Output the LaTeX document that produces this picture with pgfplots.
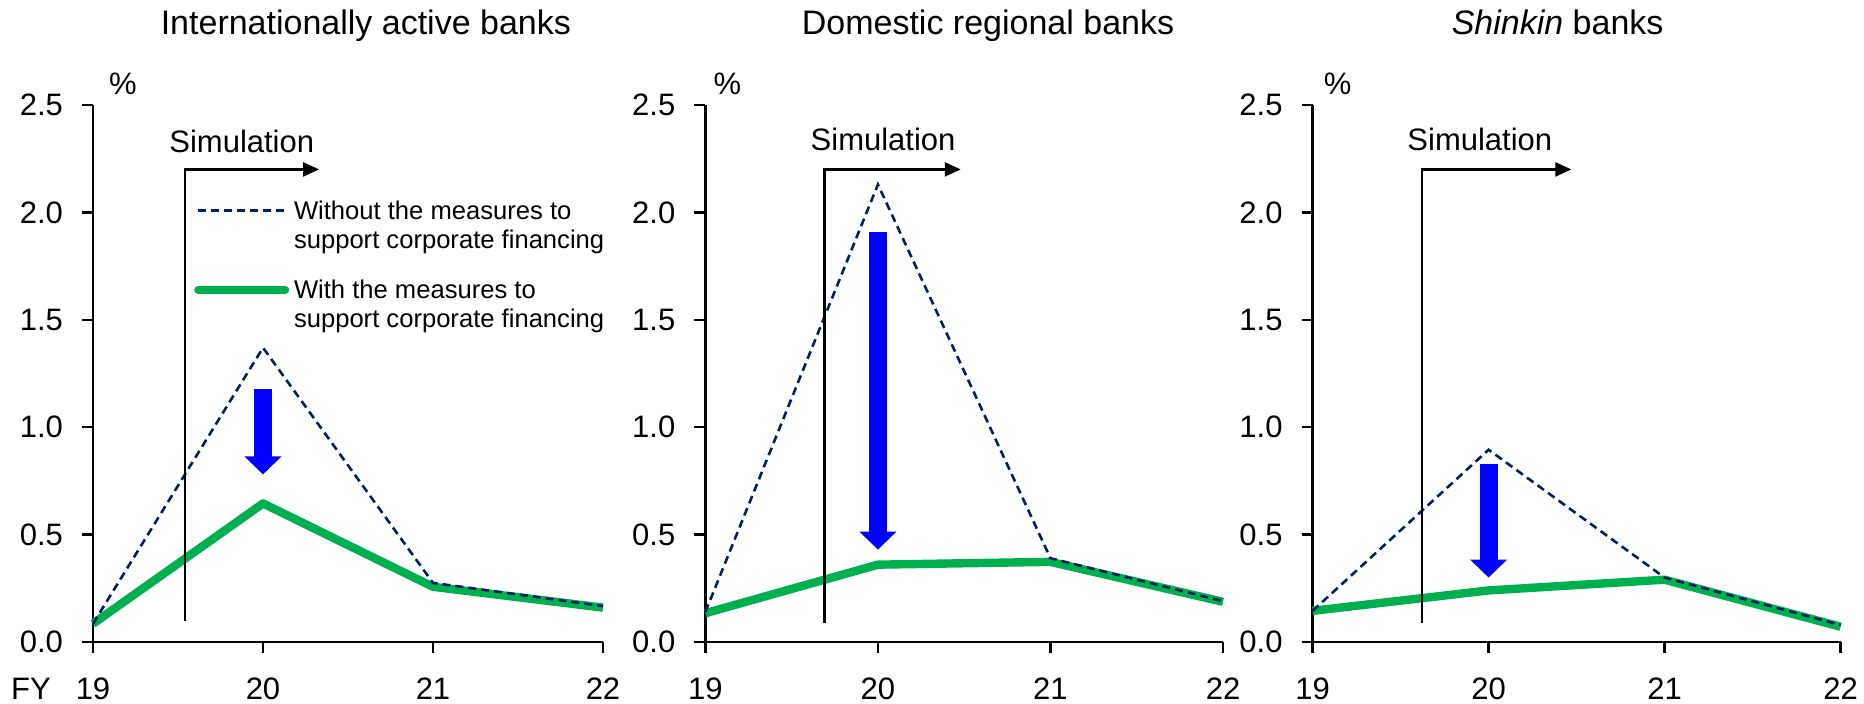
\documentclass[border=0pt]{standalone}
\usepackage{fontspec}
\setmainfont{Liberation Sans}
\usepackage{pgfplots}
\pgfplotsset{compat=1.18}
\usetikzlibrary{arrows.meta}
\definecolor{sgreen}{RGB}{0,176,80}
\definecolor{navy}{RGB}{0,32,96}
\definecolor{arrowblue}{RGB}{0,0,255}
\newcommand{\tickfont}{\fontsize{15.5}{18}\selectfont}
\newcommand{\titlefont}{\fontsize{17}{20}\selectfont}
\newcommand{\legfont}{\fontsize{12.8}{15}\selectfont}
\pgfplotsset{panel/.style={
  scale only axis, height=268.5pt,
  xmin=19, xmax=22, ymin=0, ymax=2.5,
  axis lines=left, axis line style={line width=1.2pt,-,black},
  xtick={19,20,21,22}, ytick={0,0.5,1,1.5,2,2.5},
  tick align=outside, major tick length=5.5pt,
  tick style={black,line width=1.2pt},
  /pgf/number format/assume math mode=true,
  yticklabel style={xshift=-6pt,/pgf/number format/.cd,fixed,fixed zerofill,precision=1},
  xticklabel style={yshift=-9pt},
  ticklabel style={font=\tickfont},
  clip=false, anchor=south west,
}}
\tikzset{
  sim/.style={line width=1.2pt,-{Triangle[length=8pt,width=7pt]}},
  down/.style={arrowblue,line width=9pt,-{Triangle[length=9pt,width=18pt]}},
}
\begin{document}
\begin{tikzpicture}
\path[use as bounding box] (0,0) rectangle (932pt,352pt);
% ---------------- Panel 1
\begin{axis}[panel, at={(46.5pt,31pt)}, width=255pt,
  xticklabels={{\makebox[0pt][r]{FY\hspace{12.5pt}}19},20,21,22}]
  \addplot[sgreen, line width=4.2pt, line join=round] coordinates {(19,0.085)(20,0.645)(21,0.257)(22,0.16)};
  \addplot[navy, line width=1.3pt, dash pattern=on 4pt off 2.5pt] coordinates {(19,0.085)(20,1.37)(21,0.275)(22,0.167)};
  \draw[sim] (axis cs:19.54,0.10) |- (axis cs:20.33,2.20);
  \node[font=\tickfont] at (axis cs:19.875,2.33) {Simulation};
  \draw[down] (axis cs:20,1.18) -- (axis cs:20,0.78);
  \node[font=\tickfont] at ([xshift=15pt,yshift=10.5pt]rel axis cs:0,1) {\%};
  \node[font=\titlefont, anchor=base] at ([yshift=35pt]rel axis cs:0.535,1) {Internationally active banks};
  % legend
  \draw[navy, line width=1.3pt, dash pattern=on 4pt off 2.5pt] (axis cs:19.62,2.01) -- (axis cs:20.13,2.01);
  \draw[sgreen, line width=4.2pt, line cap=round] (axis cs:19.62,1.64) -- (axis cs:20.13,1.64);
  \node[font=\legfont, anchor=base west, inner sep=0pt] at ([yshift=-4.6pt]axis cs:20.18,2.01) {Without the measures to};
  \node[font=\legfont, anchor=base west, inner sep=0pt] at ([yshift=-4.6pt]axis cs:20.18,1.874) {support corporate financing};
  \node[font=\legfont, anchor=base west, inner sep=0pt] at ([yshift=-4.6pt]axis cs:20.18,1.64) {With the measures to};
  \node[font=\legfont, anchor=base west, inner sep=0pt] at ([yshift=-4.6pt]axis cs:20.18,1.509) {support corporate financing};
\end{axis}
% ---------------- Panel 2
\begin{axis}[panel, at={(352.7pt,31pt)}, width=258.8pt]
  \addplot[sgreen, line width=4.2pt, line join=round] coordinates {(19,0.134)(20,0.36)(21,0.373)(22,0.187)};
  \addplot[navy, line width=1.3pt, dash pattern=on 4pt off 2.5pt] coordinates {(19,0.14)(20,2.13)(21,0.39)(22,0.19)};
  \draw[sim] (axis cs:19.69,0.09) |- (axis cs:20.48,2.20);
  \node[font=\tickfont] at (axis cs:20.03,2.34) {Simulation};
  \draw[down] (axis cs:20,1.91) -- (axis cs:20,0.43);
  \node[font=\tickfont] at ([xshift=11pt,yshift=10.5pt]rel axis cs:0,1) {\%};
  \node[font=\titlefont, anchor=base] at ([yshift=35pt]rel axis cs:0.546,1) {Domestic regional banks};
\end{axis}
% ---------------- Panel 3
\begin{axis}[panel, at={(656.3pt,31pt)}, width=264pt]
  \addplot[sgreen, line width=4.2pt, line join=round] coordinates {(19,0.145)(20,0.24)(21,0.29)(22,0.071)};
  \addplot[navy, line width=1.3pt, dash pattern=on 4pt off 2.5pt] coordinates {(19,0.145)(20,0.895)(21,0.30)(22,0.079)};
  \draw[sim] (axis cs:19.62,0.09) |- (axis cs:20.47,2.20);
  \node[font=\tickfont] at (axis cs:19.95,2.34) {Simulation};
  \draw[down] (axis cs:20,0.83) -- (axis cs:20,0.30);
  \node[font=\tickfont] at ([xshift=12.5pt,yshift=10.5pt]rel axis cs:0,1) {\%};
  \node[font=\titlefont, anchor=base] at ([yshift=35pt]rel axis cs:0.464,1) {\textit{Shinkin} banks};
\end{axis}
\end{tikzpicture}
\end{document}
